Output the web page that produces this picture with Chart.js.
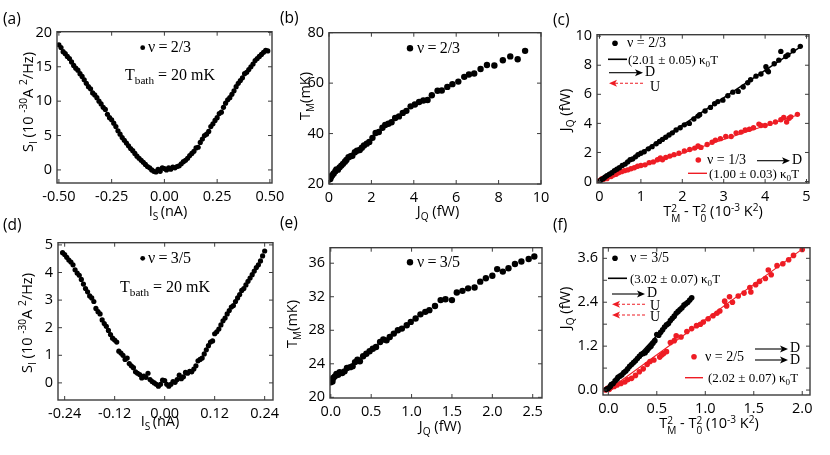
<!DOCTYPE html>
<html>
<head>
<meta charset="utf-8">
<script src="https://cdn.jsdelivr.net/npm/chart.js@4.4.1/dist/chart.umd.min.js"></script>
<style>
body { margin: 0; background: #fff; }
#fig { position: relative; width: 830px; height: 455px; overflow: hidden; color: #000; font-family: "Open Sans", sans-serif; }
#fig canvas { position: absolute; }
.t { position: absolute; white-space: nowrap; line-height: 1; transform: translateY(-50%); }
.c { transform: translate(-50%, -50%); }
.r { transform: translate(-50%, -50%) rotate(-90deg); }
.pl { font-size: 15.5px; }
.ax { font-size: 14.5px; }
.serif { font-family: "Liberation Serif", "Times New Roman", serif; }
.big { font-size: 16px; }
.leg { font-size: 13px; }
.nu { font-size: 14px; }
sub, sup { font-size: 70%; line-height: 0; }
.ss { display: inline-flex; flex-direction: column; font-size: 70%; line-height: 1; vertical-align: 0.45em; }
</style>
</head>
<body>
<div id="fig">
  <canvas id="pa"></canvas>
  <canvas id="pb"></canvas>
  <canvas id="pc"></canvas>
  <canvas id="pd"></canvas>
  <canvas id="pe"></canvas>
  <canvas id="pf"></canvas>

  <div class="t pl" style="left:3px;top:19px">(a)</div>
  <div class="t pl" style="left:280px;top:18px">(b)</div>
  <div class="t pl" style="left:553px;top:20px">(c)</div>
  <div class="t pl" style="left:3px;top:225px">(d)</div>
  <div class="t pl" style="left:280px;top:223px">(e)</div>
  <div class="t pl" style="left:553px;top:225px">(f)</div>

  <div class="t ax c" style="left:168px;top:211px">I<sub>S</sub>&thinsp;(nA)</div>
  <div class="t ax c" style="left:438px;top:211px">J<sub>Q</sub> (fW)</div>
  <div class="t ax c" style="left:713px;top:213px">T<span class="ss"><span>2</span><span>M</span></span> - T<span class="ss"><span>2</span><span>0</span></span> (10<sup>-3</sup> K<sup>2</sup>)</div>
  <div class="t ax c" style="left:160px;top:421px">I<sub>S</sub>&thinsp;(nA)</div>
  <div class="t ax c" style="left:440px;top:426px">J<sub>Q</sub> (fW)</div>
  <div class="t ax c" style="left:709px;top:425px">T<span class="ss"><span>2</span><span>M</span></span> - T<span class="ss"><span>2</span><span>0</span></span> (10<sup>-3</sup> K<sup>2</sup>)</div>

  <div class="t ax r" style="left:28px;top:102px">S<sub>I</sub> (10 <sup>-30</sup>A <sup>2</sup>/Hz)</div>
  <div class="t ax r" style="left:27px;top:323px">S<sub>I</sub> (10 <sup>-30</sup>A <sup>2</sup>/Hz)</div>
  <div class="t ax r" style="left:305px;top:96px">T<sub>M</sub>(mK)</div>
  <div class="t ax r" style="left:292px;top:324px">T<sub>M</sub>(mK)</div>
  <div class="t ax r" style="left:565px;top:110px">J<sub>Q</sub> (fW)</div>
  <div class="t ax r" style="left:565px;top:308px">J<sub>Q</sub> (fW)</div>

  <div class="t serif big" style="left:148px;top:47px">ν&thinsp;=&thinsp;2/3</div>
  <div class="t serif big" style="left:125px;top:75px">T<sub>bath</sub> = 20 mK</div>
  <div class="t serif big" style="left:417px;top:48px">ν&thinsp;=&thinsp;2/3</div>
  <div class="t serif big" style="left:148px;top:258px">ν&thinsp;=&thinsp;3/5</div>
  <div class="t serif big" style="left:120px;top:287px">T<sub>bath</sub> = 20 mK</div>
  <div class="t serif big" style="left:417px;top:262px">ν&thinsp;=&thinsp;3/5</div>

  <div class="t serif nu" style="left:627px;top:43px">ν = 2/3</div>
  <div class="t serif leg" style="left:628px;top:59px">(2.01 ± 0.05) κ<sub>0</sub>T</div>
  <div class="t serif nu" style="left:645px;top:72px">D</div>
  <div class="t serif nu" style="left:650px;top:87px">U</div>
  <div class="t serif nu" style="left:707px;top:160px">ν = 1/3</div>
  <div class="t serif nu" style="left:792px;top:160px">D</div>
  <div class="t serif leg" style="left:709px;top:173px">(1.00 ± 0.03) κ<sub>0</sub>T</div>

  <div class="t serif nu" style="left:630px;top:258px">ν = 3/5</div>
  <div class="t serif leg" style="left:630px;top:278px">(3.02 ± 0.07) κ<sub>0</sub>T</div>
  <div class="t serif nu" style="left:647px;top:293px">D</div>
  <div class="t serif nu" style="left:650px;top:306px">U</div>
  <div class="t serif nu" style="left:650px;top:317px">U</div>
  <div class="t serif nu" style="left:705px;top:357px">ν = 2/5</div>
  <div class="t serif nu" style="left:790px;top:348px">D</div>
  <div class="t serif nu" style="left:790px;top:360px">D</div>
  <div class="t serif leg" style="left:708px;top:377px">(2.02 ± 0.07) κ<sub>0</sub>T</div>
</div>

<script>
// (a) noise vs source current, nu = 2/3
var aX = [-0.50,-0.49,-0.48,-0.47,-0.46,-0.45,-0.44,-0.43,-0.42,-0.41,
  -0.40,-0.39,-0.38,-0.37,-0.36,-0.35,-0.34,-0.33,-0.32,-0.31,
  -0.30,-0.29,-0.28,-0.27,-0.26,-0.25,-0.24,-0.23,-0.22,-0.21,
  -0.20,-0.19,-0.18,-0.17,-0.16,-0.15,-0.14,-0.13,-0.12,-0.11,
  -0.10,-0.09,-0.08,-0.07,-0.06,-0.05,-0.04,-0.03,-0.02,-0.01,
  0.00,0.01,0.02,0.03,0.04,0.05,0.06,0.07,0.08,0.09,
  0.10,0.11,0.12,0.13,0.14,0.15,0.16,0.17,0.18,0.19,
  0.20,0.21,0.22,0.23,0.24,0.25,0.26,0.27,0.28,0.29,
  0.30,0.31,0.32,0.33,0.34,0.35,0.36,0.37,0.38,0.39,
  0.40,0.41,0.42,0.43,0.44,0.45,0.46,0.47,0.48,0.49];
var aY = [18.2,17.8,17.2,16.9,16.5,16.2,15.7,15.2,14.8,14.5,
  14.0,13.6,13.1,12.6,12.1,11.8,11.2,10.9,10.5,10.0,
  9.6,9.1,8.8,8.1,7.6,7.3,6.8,6.3,5.7,5.2,
  4.7,4.3,3.9,3.5,3.1,2.8,2.4,2.0,1.7,1.4,
  1.1,0.8,0.5,0.3,0.0,-0.2,-0.3,0.1,-0.2,0.3,
  0.2,0.0,0.3,0.1,0.4,0.3,0.5,0.6,0.9,1.2,
  1.4,1.7,2.1,2.4,2.7,3.2,3.3,4.0,4.5,5.0,
  5.2,5.6,6.3,6.7,7.2,7.6,8.2,8.4,9.1,9.7,
  10.2,10.5,11.0,11.5,12.1,12.6,13.0,13.4,14.0,14.2,
  14.6,15.0,15.4,15.9,16.2,16.5,16.8,17.1,17.4,17.3];

// (b) T_M vs J_Q, nu = 2/3
var bX = [0.00,0.03,0.06,0.10,0.15,0.22,0.30,0.35,0.42,0.50,
  0.58,0.66,0.75,0.82,0.92,1.02,1.10,1.22,1.32,1.45,
  1.55,1.65,1.78,1.90,2.05,2.20,2.35,2.52,2.65,2.80,
  2.95,3.12,3.30,3.48,3.65,3.85,4.05,4.25,4.45,4.65,
  4.85,5.12,5.32,5.58,5.82,6.10,6.38,6.60,6.85,7.15,
  7.45,7.80,8.20,8.55,8.90,9.25];
var bY = [21.8,22.3,22.0,22.9,23.5,24.2,25.1,25.8,25.7,26.6,
  27.3,28.0,28.8,29.5,30.6,31.0,31.2,32.6,33.2,33.5,
  34.4,35.3,36.0,36.7,38.3,40.2,40.6,42.3,43.4,43.9,
  44.5,46.2,46.8,48.2,49.0,50.8,51.5,52.5,53.1,53.3,
  55.2,57.0,57.1,58.5,59.6,60.6,62.5,63.4,63.8,65.6,
  67.2,67.0,69.1,70.6,69.5,72.8];

// (c) J_Q vs T_M^2 - T_0^2 : nu = 2/3 (black) and nu = 1/3 (red)
var c23X = [0.02,0.05,0.09,0.13,0.18,0.24,0.30,0.36,0.42,0.48,
  0.55,0.62,0.68,0.74,0.80,0.87,0.93,1.00,1.08,1.18,
  1.27,1.37,1.45,1.52,1.60,1.68,1.76,1.85,1.95,2.05,
  2.17,2.28,2.38,2.42,2.55,2.68,2.78,2.86,2.98,3.10,
  3.22,3.35,3.47,3.58,3.65,3.78,3.90,4.02,4.05,4.08,
  4.22,4.33,4.38,4.50,4.55,4.68,4.85];
var c23Y = [0.05,0.15,0.2,0.3,0.4,0.5,0.6,0.75,0.85,0.95,
  1.1,1.2,1.35,1.5,1.55,1.7,1.85,1.95,2.05,2.25,
  2.4,2.6,2.75,2.9,3.05,3.2,3.35,3.55,3.7,3.9,
  4.0,4.3,4.5,4.6,4.85,5.1,5.35,5.5,5.6,5.9,
  6.15,6.2,6.5,6.8,7.0,7.25,7.4,7.9,7.65,7.55,
  8.1,8.35,8.95,8.6,8.7,9.0,9.3];
var c13X = [0.00,0.03,0.06,0.10,0.14,0.18,0.22,0.28,0.34,0.40,
  0.46,0.53,0.60,0.68,0.76,0.84,0.92,1.00,1.10,1.20,
  1.30,1.40,1.47,1.52,1.60,1.70,1.80,1.92,2.05,2.18,
  2.30,2.38,2.45,2.60,2.72,2.80,2.92,3.05,3.18,3.30,
  3.42,3.52,3.62,3.72,3.85,3.90,4.00,4.12,4.25,4.38,
  4.45,4.52,4.58,4.62,4.78];
var c13Y = [0.05,0.1,0.2,0.15,0.3,0.2,0.35,0.35,0.45,0.5,
  0.6,0.68,0.75,0.8,0.88,0.95,1.05,1.1,1.15,1.3,
  1.35,1.5,1.62,1.5,1.65,1.75,1.85,1.95,2.1,2.2,
  2.3,2.45,2.35,2.55,2.7,2.85,2.95,3.1,3.1,3.35,
  3.4,3.55,3.6,3.7,3.95,3.85,3.85,4.0,4.1,4.25,
  4.4,4.1,4.35,4.45,4.62];
var c23FitX = [0, 4.9], c23FitY = [0.1, 9.35];
var c13FitX = [0, 4.8], c13FitY = [0.05, 4.6];

// (d) noise vs source current, nu = 3/5
var dX = [-0.245,-0.240,-0.235,-0.230,-0.225,-0.220,-0.215,-0.210,-0.205,-0.200,
  -0.195,-0.190,-0.185,-0.180,-0.175,-0.170,-0.165,-0.160,-0.155,-0.150,
  -0.145,-0.140,-0.135,-0.130,-0.125,-0.120,-0.115,-0.110,-0.105,-0.100,
  -0.095,-0.090,-0.085,-0.080,-0.075,-0.070,-0.065,-0.060,-0.055,-0.050,
  -0.045,-0.040,-0.035,-0.030,-0.025,-0.020,-0.015,-0.010,-0.005,0.000,
  0.005,0.010,0.015,0.020,0.025,0.030,0.035,0.040,0.045,0.050,
  0.055,0.060,0.065,0.070,0.075,0.080,0.085,0.090,0.095,0.100,
  0.105,0.110,0.115,0.120,0.125,0.130,0.135,0.140,0.145,0.150,
  0.155,0.160,0.165,0.170,0.175,0.180,0.185,0.190,0.195,0.200,
  0.205,0.210,0.215,0.220,0.225,0.230,0.235,0.240];
var dY = [4.72,4.65,4.55,4.45,4.38,4.28,4.10,3.98,3.90,3.75,
  3.58,3.42,3.30,3.15,3.08,2.95,2.70,2.58,2.50,2.28,
  2.15,2.05,1.90,1.75,1.62,1.55,1.48,1.15,1.08,1.00,
  0.85,0.90,0.70,0.62,0.55,0.40,0.35,0.30,0.18,0.25,
  0.20,0.35,0.12,0.05,0.00,-0.05,-0.12,-0.05,0.10,0.08,
  -0.05,-0.12,-0.05,0.05,0.02,0.12,0.28,0.15,0.22,0.38,
  0.35,0.42,0.40,0.50,0.62,0.80,0.85,0.90,1.05,1.20,
  1.35,1.48,1.52,1.78,1.85,1.95,2.10,2.25,2.35,2.50,
  2.62,2.75,2.80,2.95,3.08,3.20,3.35,3.42,3.55,3.68,
  3.80,3.92,4.05,4.18,4.28,4.42,4.60,4.78];

// (e) T_M vs J_Q, nu = 3/5
var eX = [0.00,0.01,0.02,0.03,0.05,0.07,0.09,0.11,0.14,0.17,
  0.20,0.24,0.27,0.30,0.33,0.36,0.40,0.44,0.48,0.52,
  0.56,0.61,0.65,0.69,0.73,0.78,0.83,0.88,0.94,0.99,
  1.05,1.11,1.17,1.22,1.29,1.36,1.42,1.50,1.56,1.63,
  1.70,1.78,1.85,1.92,2.00,2.06,2.13,2.20,2.28,2.36,
  2.45,2.52];
var eY = [21.8,22.1,21.9,22.3,22.5,22.8,22.7,23.0,22.9,23.1,
  23.5,23.6,23.7,24.2,24.5,24.3,24.9,25.2,25.5,25.8,
  26.0,26.6,26.9,26.8,27.2,27.6,28.0,28.2,28.6,29.0,
  29.4,29.9,30.2,30.4,30.9,31.6,31.7,31.6,32.5,32.7,
  33.0,33.1,33.8,34.2,34.5,35.3,35.0,35.4,35.9,36.2,
  36.5,36.8];

// (f) J_Q vs T_M^2 - T_0^2 : nu = 3/5 (black) and nu = 2/5 (red)
var f35X = [-0.02,0.00,0.02,0.03,0.05,0.07,0.09,0.10,0.12,0.14,
  0.16,0.18,0.20,0.22,0.24,0.26,0.28,0.30,0.32,0.34,
  0.36,0.38,0.40,0.42,0.44,0.46,0.48,0.50,0.52,0.54,
  0.56,0.58,0.60,0.62,0.64,0.66,0.68,0.70,0.72,0.74,
  0.76,0.78,0.80,0.82,0.84,0.86];
var f35Y = [0.02,0.05,0.10,0.15,0.18,0.25,0.30,0.35,0.38,0.42,
  0.48,0.52,0.58,0.65,0.70,0.75,0.80,0.86,0.92,0.98,
  1.00,1.02,1.08,1.15,1.20,1.28,1.35,1.52,1.50,1.58,
  1.65,1.72,1.78,1.82,1.90,1.96,2.02,2.10,2.15,2.20,
  2.25,2.32,2.36,2.40,2.46,2.52];
var f25X = [-0.03,-0.01,0.01,0.03,0.06,0.09,0.13,0.17,0.20,0.24,
  0.28,0.32,0.36,0.40,0.43,0.47,0.53,0.55,0.57,0.60,
  0.64,0.68,0.70,0.75,0.81,0.86,0.91,0.95,0.98,1.03,
  1.08,1.12,1.15,1.20,1.22,1.25,1.28,1.34,1.40,1.46,
  1.47,1.52,1.56,1.62,1.65,1.68,1.74,1.80,1.86,1.91,
  2.00];
var f25Y = [0.00,0.05,0.02,0.08,0.10,0.14,0.18,0.22,0.28,0.32,
  0.40,0.50,0.58,0.70,0.78,0.82,0.90,0.96,1.00,1.05,
  1.30,1.35,1.48,1.45,1.60,1.68,1.76,1.80,1.86,1.95,
  2.03,2.10,2.16,2.43,2.30,2.55,2.40,2.57,2.65,2.80,
  2.68,2.88,2.97,3.05,3.28,3.15,3.40,3.45,3.56,3.68,
  3.84];
var f35FitX = [0, 0.87], f35FitY = [0.05, 2.55];
var f25FitX = [0, 2.0], f25FitY = [0, 3.85];

// tick labels (and unlabelled minor ticks)
var aXTicks = [-0.5, -0.25, 0, 0.25, 0.5], aYTicks = [0, 5, 10, 15, 20];
var bXTicks = [0, 2, 4, 6, 8, 10], bYTicks = [20, 40, 60, 80];
var cXTicks = [0, 1, 2, 3, 4, 5], cYTicks = [0, 2, 4, 6, 8, 10];
var dXTicks = [-0.24, -0.12, 0, 0.12, 0.24], dYTicks = [0, 1, 2, 3, 4, 5];
var eXTicks = [0, 0.5, 1, 1.5, 2, 2.5], eYTicks = [20, 24, 28, 32, 36];
var fXTicks = [0, 0.5, 1, 1.5, 2], fYTicks = [0, 1.2, 2.4, 3.6];
var fYMinor = [0.6, 1.8, 3.0];

var BLACK = '#000000';
var RED = '#ee1c24';
var PAD = {l: 45, r: 20, t: 12, b: 25};

Chart.defaults.font.family = '"Open Sans", sans-serif';
Chart.defaults.font.size = 14.5;
Chart.defaults.color = '#000';

// legend glyphs, in page pixels (not data)
var glyphs = {
  pa: [{k: 'dot', x: 142.7, y: 47.7, r: 2.4, c: BLACK}],
  pb: [{k: 'dot', x: 410, y: 48.3, r: 3.2, c: BLACK}],
  pc: [
    {k: 'dot', x: 615, y: 43.3, r: 2.8, c: BLACK},
    {k: 'line', x1: 608, y1: 59.3, x2: 627, y2: 59.3, c: BLACK, w: 1.6},
    {k: 'arrow', x1: 609, y1: 72.7, x2: 643, y2: 72.7, c: BLACK},
    {k: 'arrow', x1: 643, y1: 83.3, x2: 609, y2: 83.3, c: RED, dash: true},
    {k: 'dot', x: 698.3, y: 160, r: 2.8, c: RED},
    {k: 'arrow', x1: 757, y1: 160.7, x2: 790, y2: 160.7, c: BLACK},
    {k: 'line', x1: 688, y1: 173.3, x2: 707, y2: 173.3, c: RED, w: 1.4}
  ],
  pd: [{k: 'dot', x: 142.7, y: 258.3, r: 2.4, c: BLACK}],
  pe: [{k: 'dot', x: 410, y: 262.3, r: 3.2, c: BLACK}],
  pf: [
    {k: 'dot', x: 615, y: 258.3, r: 2.8, c: BLACK},
    {k: 'line', x1: 608, y1: 278.3, x2: 627, y2: 278.3, c: BLACK, w: 1.6},
    {k: 'arrow', x1: 612, y1: 294, x2: 645, y2: 294, c: BLACK},
    {k: 'arrow', x1: 645, y1: 304.3, x2: 612, y2: 304.3, c: RED, dash: true},
    {k: 'arrow', x1: 645, y1: 315, x2: 612, y2: 315, c: RED, dash: true},
    {k: 'dot', x: 694, y: 356.7, r: 2.8, c: RED},
    {k: 'arrow', x1: 755, y1: 349, x2: 788, y2: 349, c: BLACK},
    {k: 'arrow', x1: 755, y1: 360, x2: 788, y2: 360, c: BLACK},
    {k: 'line', x1: 685, y1: 377.7, x2: 703, y2: 377.7, c: RED, w: 1.4}
  ]
};
var origins = {};
var minors = {pf: {y: fYMinor}};

function drawGlyph(ctx, g, ox, oy) {
  ctx.save();
  ctx.fillStyle = g.c;
  ctx.strokeStyle = g.c;
  if (g.k === 'dot') {
    ctx.beginPath();
    ctx.arc(g.x - ox, g.y - oy, g.r, 0, Math.PI * 2);
    ctx.fill();
  } else if (g.k === 'line') {
    ctx.lineWidth = g.w;
    ctx.beginPath();
    ctx.moveTo(g.x1 - ox, g.y1 - oy);
    ctx.lineTo(g.x2 - ox, g.y2 - oy);
    ctx.stroke();
  } else if (g.k === 'arrow') {
    var dir = g.x2 > g.x1 ? 1 : -1;
    var hx = g.x2 - ox, hy = g.y2 - oy;
    ctx.lineWidth = 1.1;
    if (g.dash) ctx.setLineDash([3, 2]);
    ctx.beginPath();
    ctx.moveTo(g.x1 - ox, g.y1 - oy);
    ctx.lineTo(hx - dir * 6, hy);
    ctx.stroke();
    ctx.setLineDash([]);
    ctx.beginPath();
    ctx.moveTo(hx, hy);
    ctx.lineTo(hx - dir * 8, hy - 3.5);
    ctx.lineTo(hx - dir * 6, hy);
    ctx.lineTo(hx - dir * 8, hy + 3.5);
    ctx.closePath();
    ctx.fill();
  }
  ctx.restore();
}

// box with inward ticks on all four sides, plus the legend glyphs
var frame = {
  id: 'frame',
  afterDatasetsDraw: function (chart) {
    var ctx = chart.ctx, a = chart.chartArea;
    var sx = chart.scales.x, sy = chart.scales.y;
    var extra = minors[chart.canvas.id] || {};
    var xs = sx.ticks.map(function (t) { return t.value; }).concat(extra.x || []);
    var ys = sy.ticks.map(function (t) { return t.value; }).concat(extra.y || []);
    ctx.save();
    ctx.strokeStyle = '#3c3c3c';
    ctx.lineWidth = 1.4;
    ctx.strokeRect(a.left, a.top, a.right - a.left, a.bottom - a.top);
    ctx.lineWidth = 1;
    ctx.beginPath();
    xs.forEach(function (v) {
      var p = sx.getPixelForValue(v);
      ctx.moveTo(p, a.bottom); ctx.lineTo(p, a.bottom - 4);
      ctx.moveTo(p, a.top); ctx.lineTo(p, a.top + 4);
    });
    ys.forEach(function (v) {
      var p = sy.getPixelForValue(v);
      ctx.moveTo(a.left, p); ctx.lineTo(a.left + 4, p);
      ctx.moveTo(a.right, p); ctx.lineTo(a.right - 4, p);
    });
    ctx.stroke();
    ctx.restore();
    var o = origins[chart.canvas.id];
    (glyphs[chart.canvas.id] || []).forEach(function (g) { drawGlyph(ctx, g, o.x, o.y); });
  }
};

function pts(xs, ys) {
  return xs.map(function (x, i) { return {x: x, y: ys[i]}; });
}
function dots(xs, ys, color, r) {
  return {data: pts(xs, ys), showLine: false, pointRadius: r, pointBackgroundColor: color,
    pointBorderWidth: 0, borderColor: color, order: 1};
}
function fit(xs, ys, color, w) {
  return {data: pts(xs, ys), showLine: true, pointRadius: 0, borderColor: color,
    borderWidth: w, order: 2};
}

function panel(id, box, xr, yr, xTicks, yTicks, xDec, yDec, datasets) {
  var cv = document.getElementById(id);
  var w = box.r - box.l + PAD.l + PAD.r;
  var h = box.b - box.t + PAD.t + PAD.b;
  origins[id] = {x: box.l - PAD.l, y: box.t - PAD.t};
  cv.width = w; cv.height = h;
  cv.style.left = origins[id].x + 'px';
  cv.style.top = origins[id].y + 'px';
  cv.style.width = w + 'px';
  cv.style.height = h + 'px';
  return new Chart(cv, {
    type: 'scatter',
    data: {datasets: datasets},
    options: {
      responsive: false,
      animation: false,
      events: [],
      layout: {padding: {left: 0, right: PAD.r, top: PAD.t, bottom: 0}},
      plugins: {legend: {display: false}, tooltip: {enabled: false}},
      scales: {
        x: {
          min: xr[0], max: xr[1],
          grid: {display: false, drawTicks: false},
          border: {display: false},
          afterBuildTicks: function (s) { s.ticks = xTicks.map(function (v) { return {value: v}; }); },
          afterFit: function (s) { s.height = PAD.b; },
          ticks: {padding: 5, autoSkip: false, maxRotation: 0,
            callback: function (v) { return Number(v).toFixed(xDec); }}
        },
        y: {
          min: yr[0], max: yr[1],
          grid: {display: false, drawTicks: false},
          border: {display: false},
          afterBuildTicks: function (s) { s.ticks = yTicks.map(function (v) { return {value: v}; }); },
          afterFit: function (s) { s.width = PAD.l; },
          ticks: {padding: 5, autoSkip: false,
            callback: function (v) { return Number(v).toFixed(yDec); }}
        }
      }
    },
    plugins: [frame]
  });
}

panel('pa', {l: 57, r: 272, t: 30, b: 183}, [-0.509, 0.51], [-1.9, 20.1], aXTicks, aYTicks, 2, 0,
  [dots(aX, aY, BLACK, 2.6)]);
panel('pb', {l: 329, r: 541, t: 31, b: 184}, [0, 10], [20, 80], bXTicks, bYTicks, 0, 0,
  [dots(bX, bY, BLACK, 3.2)]);
panel('pc', {l: 597, r: 809, t: 33, b: 183}, [-0.06, 5.06], [-0.1, 10.1], cXTicks, cYTicks, 0, 0,
  [dots(c23X, c23Y, BLACK, 2.7), dots(c13X, c13Y, RED, 2.7),
   fit(c23FitX, c23FitY, BLACK, 1.5), fit(c13FitX, c13FitY, RED, 1.1)]);
panel('pd', {l: 58, r: 273, t: 241, b: 400}, [-0.256, 0.26], [-0.62, 5.08], dXTicks, dYTicks, 2, 0,
  [dots(dX, dY, BLACK, 2.6)]);
panel('pe', {l: 330, r: 542, t: 246, b: 398}, [-0.01, 2.615], [19.92, 37.85], eXTicks, eYTicks, 1, 0,
  [dots(eX, eY, BLACK, 3.2)]);
panel('pf', {l: 603, r: 810, t: 246, b: 395}, [-0.055, 2.08], [-0.135, 3.89], fXTicks, fYTicks, 1, 1,
  [dots(f35X, f35Y, BLACK, 2.8), dots(f25X, f25Y, RED, 2.8),
   fit(f35FitX, f35FitY, BLACK, 1.5), fit(f25FitX, f25FitY, RED, 1.1)]);
</script>
</body>
</html>
